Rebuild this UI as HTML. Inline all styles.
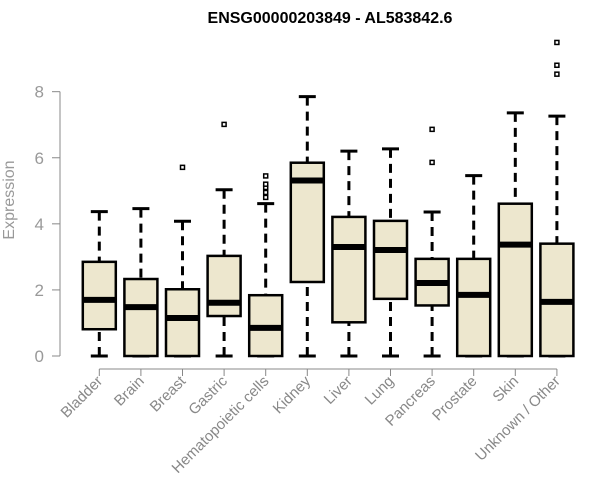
<!DOCTYPE html>
<html><head><meta charset="utf-8"><style>
body{margin:0;background:#fff}
svg{display:block;font-family:"Liberation Sans",Arial,sans-serif}
</style></head><body>
<svg id="chart" width="600" height="500">
<text x="330" y="23" text-anchor="middle" font-size="16" font-weight="bold" fill="#000">ENSG00000203849 - AL583842.6</text>
<text transform="translate(14,200) rotate(-90)" text-anchor="middle" font-size="16" fill="#999">Expression</text>
<g id="yaxis"></g>
<g id="xaxis"></g>
<g id="boxes"></g>
</svg>
<script>
const categories=["Bladder","Brain","Breast","Gastric","Hematopoietic cells","Kidney","Liver","Lung","Pancreas","Prostate","Skin","Unknown / Other"];
const mins=[0,0,0,0,0,0,0,0,0,0,0,0];
const q1s=[0.81,0,0,1.21,0,2.24,1.02,1.73,1.53,0,0,0];
const medians=[1.70,1.48,1.15,1.61,0.85,5.31,3.30,3.21,2.21,1.85,3.37,1.64];
const q3s=[2.85,2.33,2.02,3.03,1.84,5.85,4.21,4.09,2.94,2.94,4.61,3.40];
const maxs=[4.37,4.46,4.08,5.03,4.61,7.85,6.20,6.27,4.36,5.46,7.36,7.26];
const outliers=[[],[],[5.71],[7.01],[4.8,4.95,5.1,5.2,5.45],[],[],[],[6.86,5.86],[],[],[9.49,8.80,8.53]];
const yTicks=[0,2,4,6,8];
const NS="http://www.w3.org/2000/svg";
function y(v){return 356-v*33.04;}
function x(i){return 99.3+i*41.6;}
function mk(tag,attrs,parent){const e=document.createElementNS(NS,tag);for(const k in attrs)e.setAttribute(k,attrs[k]);parent.appendChild(e);return e;}
const ya=document.getElementById('yaxis'),xa=document.getElementById('xaxis'),bx=document.getElementById('boxes');
mk('line',{x1:60,x2:60,y1:y(8),y2:y(0),stroke:'#888','stroke-width':1},ya);
yTicks.forEach(t=>{
 mk('line',{x1:52,x2:60,y1:y(t),y2:y(t),stroke:'#888'},ya);
 const tx=mk('text',{x:44,y:y(t)+6,'text-anchor':'end','font-size':17,fill:'#999'},ya);
 tx.textContent=t;
 
 
});
mk('line',{x1:x(0),x2:x(categories.length-1),y1:369,y2:369,stroke:'#888'},xa);
categories.forEach((c,i)=>{
 mk('line',{x1:x(i),x2:x(i),y1:369,y2:376,stroke:'#888'},xa);
 const tx=mk('text',{transform:`translate(${x(i)+4},${382}) rotate(-45)`,'text-anchor':'end','font-size':15,fill:'#888'},xa);
 tx.textContent=c;
 
 
});
categories.forEach((c,i)=>{
 const g=mk('g',{},bx);
 
 
 const cx=x(i),hw=16.5;
 mk('line',{x1:cx,x2:cx,y1:y(maxs[i]),y2:y(q3s[i]),stroke:'#000','stroke-width':3,'stroke-dasharray':'9,6'},g);
 mk('line',{x1:cx,x2:cx,y1:y(mins[i]),y2:y(q1s[i]),stroke:'#000','stroke-width':3,'stroke-dasharray':'9,6'},g);
 mk('line',{x1:cx-8.5,x2:cx+8.5,y1:y(maxs[i]),y2:y(maxs[i]),stroke:'#000','stroke-width':3},g);
 mk('line',{x1:cx-8.5,x2:cx+8.5,y1:y(mins[i]),y2:y(mins[i]),stroke:'#000','stroke-width':3},g);
 mk('rect',{x:cx-hw,y:y(q3s[i]),width:hw*2,height:y(q1s[i])-y(q3s[i]),fill:'#ede7ce',stroke:'#000','stroke-width':2.5},g);
 mk('line',{x1:cx-hw,x2:cx+hw,y1:y(medians[i]),y2:y(medians[i]),stroke:'#000','stroke-width':6},g);
 outliers[i].forEach(o=>{mk('rect',{x:cx-2,y:y(o)-2,width:4,height:4,fill:'#fff',stroke:'#000','stroke-width':1.5},g);});
});
</script>
</body></html>
